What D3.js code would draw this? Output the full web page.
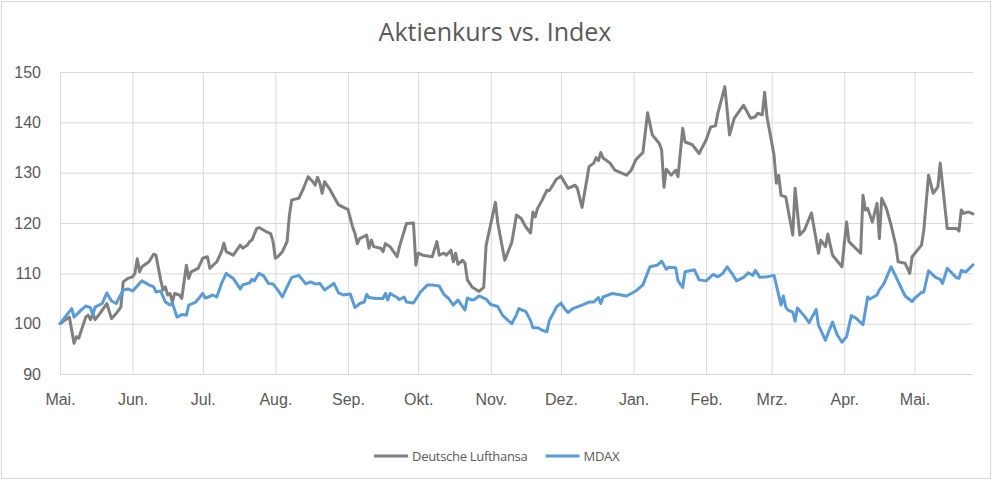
<!DOCTYPE html>
<html>
<head>
<meta charset="utf-8">
<script src="https://cdn.jsdelivr.net/npm/d3@7"></script>
<style>
  body { margin: 0; background: #fff; }
  svg { display: block; font-family: "Open Sans", sans-serif; }
</style>
</head>
<body>
<svg id="chart" width="992" height="480"></svg>
<script>
// values, days counted from the start date
const startDate = "2017-05-01";

const lhDays = [0,4,6,7,8,11,12,13,14,15,17,20,22,24,26,27,29,31,32,33,34,35,38,40,41,43,44,45,46,47,48,49,51,52,54,55,56,59,61,63,64,67,69,70,71,74,77,78,80,81,82,84,85,88,90,91,92,93,95,97,98,99,102,104,106,108,109,110,111,112,113,115,117,119,122,123,125,126,127,128,131,132,133,134,137,138,139,141,144,145,148,151,152,153,155,159,161,162,164,165,167,168,169,170,172,173,174,176,179,181,182,186,187,190,193,195,197,199,201,202,203,204,206,208,209,211,212,214,217,220,221,223,226,228,229,230,231,232,235,237,242,244,246,249,251,253,256,257,258,259,261,263,264,266,267,270,273,276,278,280,281,284,286,288,292,295,297,298,300,301,302,305,306,307,308,310,313,314,316,318,321,324,325,327,328,330,334,336,337,342,343,344,345,347,349,350,351,353,355,357,358,361,363,364,368,369,371,373,375,376,379,383,384,385,386,388,390];
const lhValues = [100,101.3,96.1,97.4,97.1,101.3,101.7,100.8,102,100.8,102,104,101,102,103.3,108.3,109,109.3,110,112.9,110.3,111.3,112.3,113.8,113.6,108.7,106.7,107.3,105.7,106,104.3,106,105.7,105,111.6,109,110.3,111,113,113.3,111,112.3,114.3,116,114.3,113.6,115.6,115,115.6,116.3,116.6,118.9,119.1,118.3,117.9,116.3,113,113.3,114.3,116.3,121.6,124.6,124.9,126.9,129.2,128.2,127.5,129.1,127.9,125.9,128.2,126.9,125.2,123.6,122.9,122.7,119.2,117.9,115.9,116.9,117.6,115,116.6,115.3,115,114.3,115.9,115.3,113.3,115.3,119.9,120,111.6,114,113.6,113.3,116.3,113.6,114,113.6,114.6,112.3,114,111.8,112.6,112,108.7,107.3,106.4,107.2,115.5,124.1,120,112.6,116.2,121.6,120.9,119.2,118,122.2,121.2,122.9,124.6,126.5,126.4,127.9,128.7,129.3,126.9,127.5,126.9,123.1,131.2,131.9,133,132.4,134,132.9,131.9,130.5,129.5,130.5,132.6,134,141.9,137.5,135.8,134.5,127.1,130.7,129.5,130.5,129.2,138.8,136.1,135.6,133.8,136.5,139.1,139.3,141.8,147.1,137.5,140.8,143.4,140.8,141.1,141.8,141.5,146,141.1,133.5,127.9,129.5,125.5,125.2,117.6,126.9,117.6,118.6,122,114,116.6,115.3,117.8,113.6,111.3,120.2,116.3,114,125.5,122.6,122.9,120.2,123.9,116.9,124.9,122.9,119.6,115.6,112.3,112,110,113.3,115.6,118.6,129.5,125.9,127.2,131.9,118.9,118.9,118.4,122.6,121.9,122.2,121.8];

const mdaxDays = [0,5,6,9,11,13,14,15,18,20,22,24,27,29,31,35,38,40,41,43,45,47,48,50,52,54,55,58,61,62,64,65,67,69,71,72,74,75,77,78,81,82,83,85,87,89,91,93,95,97,99,102,105,107,109,111,113,117,119,121,124,126,128,130,131,132,135,138,139,140,141,144,145,147,148,151,154,157,159,162,164,166,168,170,173,174,176,177,179,182,184,187,189,191,193,195,196,199,201,202,204,206,208,209,211,212,214,216,217,219,223,226,228,230,231,232,236,242,246,249,252,255,257,259,260,263,264,266,267,271,273,276,279,281,283,285,287,289,292,294,296,297,299,302,305,307,308,309,310,311,313,314,315,318,320,323,324,327,328,330,332,334,336,338,340,343,345,346,349,350,351,352,355,357,361,364,365,368,369,371,374,376,377,379,383,384,385,387,390];
const mdaxValues = [100,103,101.3,102.7,103.5,103.2,101.7,103.3,104,106.1,104.5,104,106.7,106.9,106.5,108.5,107.7,107.3,106.3,106.5,104.3,103.7,104.1,101.3,101.8,101.7,103.7,104.3,106,105.1,105.4,105.7,105.3,108,110,109.6,109,108.3,106.9,107.7,108.1,108.8,108.5,110,109.5,108,107.9,106.7,105.3,107.3,109.2,109.6,107.9,108.3,107.9,108,106.7,108,106.1,105.7,105.9,103.2,104,104.3,105.8,105.2,105,105,106,104.7,106,105.2,104.8,105.3,104.3,104.1,106.3,107.7,107.7,107.5,105.8,105,103.7,104.7,102.7,105.1,104.7,104.8,105.5,104.9,103.8,103.4,101.7,100.8,100,101.8,103,102.4,100.6,99.2,99.2,98.7,98.4,100.6,102.3,103.3,104.1,102.7,102.2,103,103.7,104.3,104.3,105.2,104,105.3,106,105.5,106.5,107.7,111.3,111.6,112.4,110.8,111.2,111.1,108.5,107.2,110.3,110.7,108.7,108.5,109.8,109.3,109.9,111.3,110,108.5,109.2,110.1,109.6,110.6,109.2,109.3,109.6,105.7,103.7,105.5,103.3,102.7,102.3,100.5,103.1,101.5,100.2,102.8,99.7,96.7,98,100.3,97.8,96.3,97.4,101.6,101.1,99.8,105.3,104.9,105.7,106.7,107.3,108,111.3,109.4,105.5,104.4,105,106.2,106.3,110.5,109.2,108.8,108,111,109.1,109,110.6,110.3,111.7];

const seriesNames = ["Deutsche Lufthansa", "MDAX"];
const seriesColors = ["#7f7f7f", "#5b9bd5"];
const yTicks = [90, 100, 110, 120, 130, 140, 150];
const monthLabels = ["Jan.", "Feb.", "Mrz.", "Apr.", "Mai.", "Jun.", "Jul.", "Aug.", "Sep.", "Okt.", "Nov.", "Dez."];
const chartTitle = "Aktienkurs vs. Index";

const width = 992, height = 480;
const margin = { top: 72, right: 19, bottom: 106, left: 60 };
const textColor = "#595959";
const gridColor = "#d9d9d9";

const start = d3.timeParse("%Y-%m-%d")(startDate);
const toDate = day => d3.timeDay.offset(start, day);

const series = [
    { name: seriesNames[0], color: seriesColors[0], points: lhDays.map((d, i) => ({ date: toDate(d), value: lhValues[i] })) },
    { name: seriesNames[1], color: seriesColors[1], points: mdaxDays.map((d, i) => ({ date: toDate(d), value: mdaxValues[i] })) }
];

const svg = d3.select("#chart");

// outer chart frame
svg.append("rect")
    .attr("x", 1.5).attr("y", 1.5)
    .attr("width", width - 3).attr("height", height - 3)
    .attr("fill", "#fff")
    .attr("stroke", gridColor);

const allDates = series.flatMap(s => s.points.map(p => p.date));
const x = d3.scaleTime()
    .domain(d3.extent(allDates))
    .range([margin.left, width - margin.right]);

const y = d3.scaleLinear()
    .domain([d3.min(yTicks), d3.max(yTicks)])
    .range([height - margin.bottom, margin.top]);

// y axis with horizontal gridlines
const yAxis = svg.append("g")
    .attr("transform", `translate(${margin.left},0)`)
    .call(d3.axisLeft(y)
        .tickValues(yTicks)
        .tickSize(-(width - margin.left - margin.right))
        .tickPadding(19));
yAxis.select(".domain").remove();
yAxis.selectAll(".tick line").attr("stroke", gridColor);
yAxis.selectAll(".tick text")
    .attr("fill", textColor)
    .style("font-size", "16px");

// x axis with vertical gridlines at month starts
const xAxis = svg.append("g")
    .attr("transform", `translate(0,${height - margin.bottom})`)
    .call(d3.axisBottom(x)
        .ticks(d3.timeMonth.every(1))
        .tickFormat(d => monthLabels[d.getMonth()])
        .tickSize(-(height - margin.top - margin.bottom))
        .tickPadding(20));
xAxis.select(".domain").remove();
xAxis.selectAll(".tick line").attr("stroke", gridColor);
xAxis.selectAll(".tick text")
    .attr("fill", textColor)
    .style("font-size", "16px");

// lines
const line = d3.line()
    .x(d => x(d.date))
    .y(d => y(d.value));

svg.append("g")
    .selectAll("path")
    .data(series)
    .join("path")
    .attr("d", d => line(d.points))
    .attr("fill", "none")
    .attr("stroke", d => d.color)
    .attr("stroke-width", 3)
    .attr("stroke-linejoin", "round")
    .attr("stroke-linecap", "round");

// title
svg.append("text")
    .attr("x", 495)
    .attr("y", 41)
    .attr("text-anchor", "middle")
    .attr("fill", textColor)
    .style("font-size", "25px")
    .text(chartTitle);

// legend, centred below the plot
const legend = svg.append("g");
const items = legend.selectAll("g")
    .data(series)
    .join("g");

items.append("line")
    .attr("x1", 0).attr("x2", 34)
    .attr("y1", 0).attr("y2", 0)
    .attr("stroke", d => d.color)
    .attr("stroke-width", 3);

items.append("text")
    .attr("x", 38)
    .attr("dy", "0.35em")
    .attr("fill", textColor)
    .style("font-size", "13px")
    .style("letter-spacing", "-0.3px")
    .text(d => d.name);

let offset = 0;
items.each(function () {
    const w = this.getBBox().width;
    d3.select(this).attr("transform", `translate(${offset},0)`);
    offset += w + 18;
});
const legendWidth = offset - 18;
legend.attr("transform", `translate(${497 - legendWidth / 2},456)`);
</script>
</body>
</html>
